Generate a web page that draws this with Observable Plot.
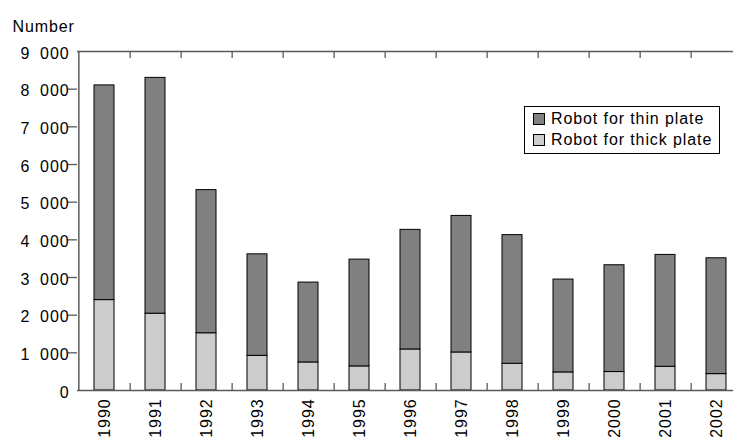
<!DOCTYPE html>
<html>
<head>
<meta charset="utf-8">
<script src="https://cdn.jsdelivr.net/npm/d3@7"></script>
<script src="https://cdn.jsdelivr.net/npm/@observablehq/plot@0.6"></script>
<style>
  html, body { margin: 0; padding: 0; background: #fff; overflow: hidden; }
  #wrap { position: relative; width: 733px; height: 443px; }
  .legend { position: absolute; left: 524px; top: 106px; width: 194px; height: 46px;
    border: 1px solid #000; background: #fff; font-family: "Liberation Sans", Arial, sans-serif;
    font-size: 16px; letter-spacing: 0.9px; color: #000; }
  .legend .row { position: absolute; left: 8px; display: flex; align-items: center; white-space: nowrap; }
  .legend .sw { width: 10px; height: 10px; border: 1px solid #000; margin-right: 6px; }
</style>
</head>
<body>
<div id="wrap"></div>
<script>
const years = ["1990","1991","1992","1993","1994","1995","1996","1997","1998","1999","2000","2001","2002"];
const thick = [2400, 2040, 1520, 920, 745, 640, 1090, 1010, 710, 480, 490, 630, 435];
const thin  = [5700, 6260, 3800, 2695, 2120, 2835, 3175, 3625, 3415, 2465, 2835, 2970, 3075];
const series = ["Robot for thick plate", "Robot for thin plate"];
const colors = ["#cccccc", "#808080"];
const yTicks = [0, 1000, 2000, 3000, 4000, 5000, 6000, 7000, 8000, 9000];
const yMax = 9000;

const W = 733, H = 443, mL = 77, mT = 51, mB = 53;
const xRange = [mL, 744];
const step = (xRange[1] - xRange[0]) / years.length;
const unitsPerPx = yMax / (H - mT - mB);
const tickLen = 7 * unitsPerPx;

const data = [];
years.forEach((yr, i) => {
  data.push({year: yr, series: series[0], value: thick[i]});
  data.push({year: yr, series: series[1], value: thin[i]});
});

const fmt = d => d3.format(",")(d).replace(/,/g, "\u2007");
const axisColor = "#5a5a5a";

const chart = Plot.plot({
  width: W, height: H,
  marginLeft: mL, marginTop: mT, marginBottom: mB, marginRight: 0,
  style: {fontFamily: "'Liberation Sans', Arial, sans-serif", fontSize: "16px", letterSpacing: "0.9px", overflow: "hidden", background: "#fff", color: "#000"},
  x: {type: "band", domain: years, range: xRange, paddingInner: 0.6, paddingOuter: 0.3, label: null},
  y: {domain: [0, yMax], label: null},
  color: {domain: series, range: colors},
  marks: [
    Plot.barY(data, {x: "year", y: "value", fill: "series", stroke: "#000", strokeWidth: 1}),
    // frame lines
    Plot.ruleY([0, yMax], {stroke: axisColor, strokeWidth: 1.5}),
    Plot.ruleX([years[0]], {dx: -step / 2, stroke: axisColor, strokeWidth: 1.5}),
    // boundary ticks, top (pointing down) and bottom (pointing up)
    Plot.ruleX(years.slice(0, -1), {dx: step / 2, y1: yMax, y2: yMax - tickLen, stroke: axisColor, strokeWidth: 1.3}),
    Plot.ruleX(years.slice(0, -1), {dx: step / 2, y1: 0, y2: tickLen, stroke: axisColor, strokeWidth: 1.3}),
    // y ticks
    Plot.axisY({ticks: yTicks.slice(1, -1), tickSize: 9, text: null, stroke: axisColor, strokeWidth: 1.3}),
    Plot.axisY({ticks: yTicks, tickSize: 0, tickPadding: 8, tickFormat: fmt, dy: 2, fill: "#000"}),
    // x labels
    Plot.axisX({tickSize: 0, tickPadding: 8, tickRotate: -90, fill: "#000"}),
    Plot.text(["Number"], {frameAnchor: "top-left", textAnchor: "start", dx: -65, dy: -31, fill: "#000"})
  ]
});

const wrap = document.getElementById("wrap");
wrap.appendChild(chart);

const legend = document.createElement("div");
legend.className = "legend";
const items = [series[1], series[0]];
items.forEach((s, i) => {
  const row = document.createElement("div");
  row.className = "row";
  row.style.top = (i === 0 ? 3 : 23.5) + "px";
  const sw = document.createElement("span");
  sw.className = "sw";
  sw.style.background = colors[series.indexOf(s)];
  const t = document.createElement("span");
  t.textContent = s;
  row.appendChild(sw); row.appendChild(t);
  legend.appendChild(row);
});
wrap.appendChild(legend);
</script>
</body>
</html>
